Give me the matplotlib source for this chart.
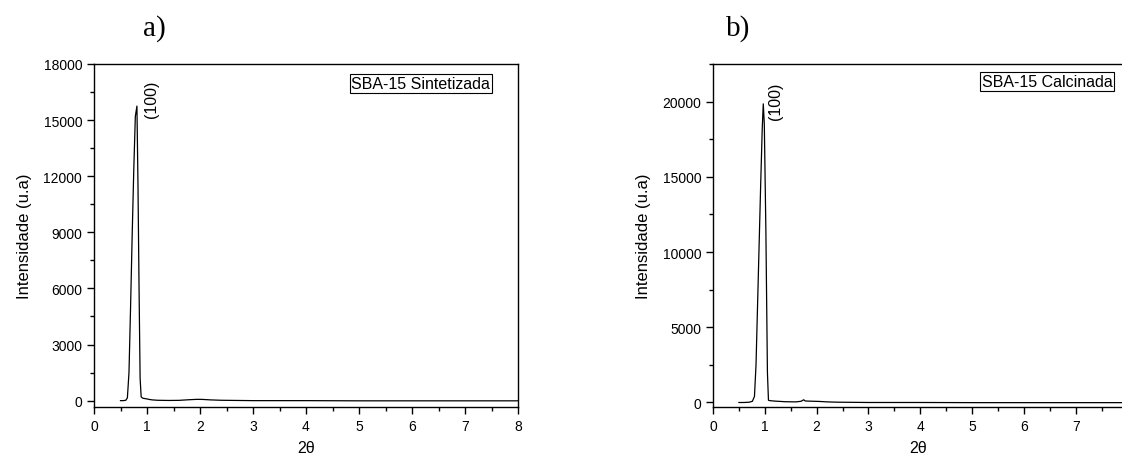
import matplotlib
matplotlib.use("Agg")
import matplotlib.pyplot as plt
from matplotlib.ticker import MultipleLocator

plt.rcParams['font.family'] = ['Liberation Sans', 'DejaVu Sans']

# a) SBA-15 Sintetizada
x_sint = [0.50, 0.55, 0.60, 0.63, 0.66, 0.69, 0.72, 0.75, 0.78, 0.81, 0.83, 0.85,
          0.87, 0.89, 0.92, 0.96, 1.00, 1.05, 1.10, 1.20, 1.40, 1.60, 1.80, 1.95,
          2.05, 2.20, 2.40, 2.70, 3.00, 4.00, 5.00, 6.00, 7.00, 8.00]
y_sint = [0, 0, 20, 150, 1500, 5000, 8800, 12300, 15200, 15750, 11500, 6000,
          1200, 200, 130, 110, 90, 60, 40, 20, 10, 15, 50, 70,
          65, 40, 20, 10, 0, 0, -10, -10, -10, -10]

# b) SBA-15 Calcinada
x_calc = [0.50, 0.60, 0.70, 0.76, 0.80, 0.83, 0.86, 0.89, 0.92, 0.95, 0.97, 0.99,
          1.02, 1.05, 1.07, 1.10, 1.20, 1.40, 1.60, 1.70, 1.75, 1.78, 1.85, 1.95,
          2.05, 2.20, 2.40, 2.70, 3.00, 4.00, 5.00, 6.00, 7.00, 7.93]
y_calc = [0, 0, 20, 80, 400, 2500, 6500, 10500, 14500, 18200, 19850, 18500,
          11500, 2000, 150, 120, 90, 50, 40, 80, 180, 100, 90, 80,
          70, 40, 20, 10, 0, 0, -10, -10, -10, -10]

W, H = 1122, 456
fig = plt.figure(figsize=(W / 100, H / 100), dpi=100)

ax1 = fig.add_axes([94 / W, (H - 408) / H, 424 / W, 343 / H])
ax2 = fig.add_axes([713 / W, (H - 408) / H, 411 / W, 343 / H])

for ax in (ax1, ax2):
    ax.tick_params(which='both', direction='out', top=False, right=False,
                   labelsize=10, width=1)
    ax.tick_params(which='major', length=5)
    ax.tick_params(which='minor', length=3)
    ax.xaxis.set_major_locator(MultipleLocator(1))
    ax.xaxis.set_minor_locator(MultipleLocator(0.5))
    ax.set_xlabel('2θ', fontsize=11.5, labelpad=5)
    ax.set_ylabel('Intensidade (u.a)', fontsize=12, labelpad=8)
    for s in ax.spines.values():
        s.set_linewidth(1)

ax1.plot(x_sint, y_sint, color='black', lw=0.9)
ax1.set_xlim(0, 8)
ax1.set_ylim(-340, 18000)
ax1.yaxis.set_major_locator(MultipleLocator(3000))
ax1.yaxis.set_minor_locator(MultipleLocator(1500))
ax1.text(1.08, 16180, '(100)', rotation=90, ha='center', va='center', fontsize=11.5)
ax1.text(0.771, 0.942, 'SBA-15 Sintetizada', transform=ax1.transAxes,
         ha='center', va='center', fontsize=11.5,
         bbox=dict(boxstyle='square,pad=0.12', fc='white', ec='black', lw=0.8))

ax2.plot(x_calc, y_calc, color='black', lw=0.9)
ax2.set_xlim(0, 7.93)
ax2.set_ylim(-300, 22500)
ax2.yaxis.set_major_locator(MultipleLocator(5000))
ax2.yaxis.set_minor_locator(MultipleLocator(2500))
ax2.text(1.21, 20100, '(100)', rotation=90, ha='center', va='center', fontsize=11.5)
ax2.text(0.813, 0.949, 'SBA-15 Calcinada', transform=ax2.transAxes,
         ha='center', va='center', fontsize=11.5,
         bbox=dict(boxstyle='square,pad=0.12', fc='white', ec='black', lw=0.8))

fig.text(154 / W, 1 - 29 / H, 'a)', family='Liberation Serif', fontsize=21,
         ha='center', va='center')
fig.text(738 / W, 1 - 29 / H, 'b)', family='Liberation Serif', fontsize=21,
         ha='center', va='center')

fig.savefig('out.png', dpi=100)
